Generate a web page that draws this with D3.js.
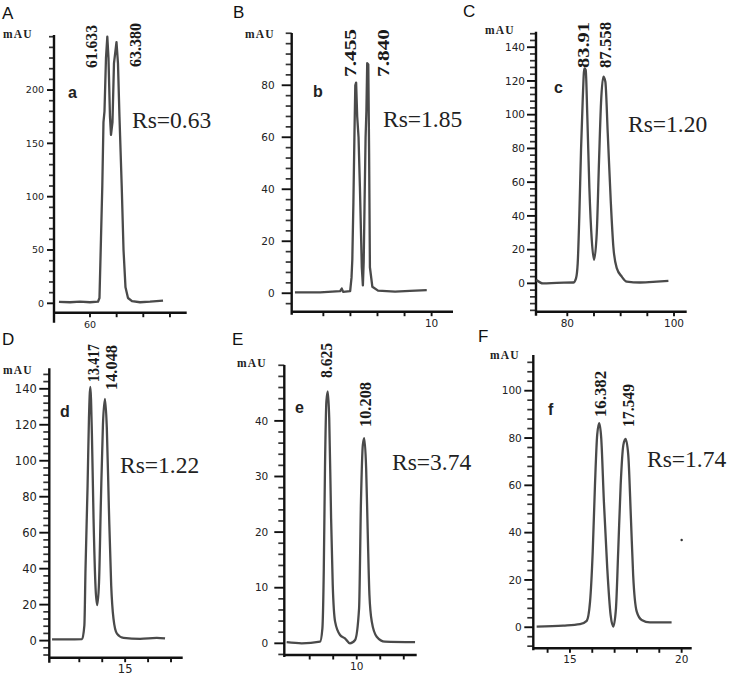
<!DOCTYPE html>
<html><head><meta charset="utf-8">
<script src="https://cdn.jsdelivr.net/npm/d3@7"></script>
<style>body{margin:0;background:#fff} svg{display:block}</style>
</head><body>
<svg id="fig" width="735" height="678"></svg>
<script>
// ---------------- DATA ----------------
const panelLetters = ["A","B","C","D","E","F"];
const sampleLetters = ["a","b","c","d","e","f"];
const resolutions = ["Rs=0.63","Rs=1.85","Rs=1.20","Rs=1.22","Rs=3.74","Rs=1.74"];
const peakLabels = [["61.633","63.380"],["7.455","7.840"],["83.91","87.558"],["13.417","14.048"],["8.625","10.208"],["16.382","17.549"]];
const yUnit = "mAU";

// chromatogram traces [time, mAU]
const traceA = [[54.18,1.4],[56.25,1.0],[58.12,1.5],[60.0,1.0],[61.5,1.5],[61.78,5],[62.06,60],[62.31,110],[62.53,170],[62.72,180],[63.0,230],[63.25,250],[63.47,230],[63.75,175],[63.94,158],[64.22,170],[64.5,225],[64.97,245],[65.25,225],[65.53,175],[65.95,110],[66.29,50],[66.66,15],[67.13,5],[67.88,2],[69.38,1],[71.26,1.5],[73.7,2.5]];
const traceB = [[4.95,0.3],[5.88,0.3],[6.62,0.8],[6.68,1.8],[6.73,0.5],[6.99,0.8],[7.04,6],[7.07,13],[7.11,35],[7.15,62],[7.18,80],[7.21,81],[7.25,68],[7.3,60],[7.35,41],[7.42,10],[7.46,3],[7.49,12],[7.52,33],[7.56,60],[7.59,70],[7.62,88.5],[7.66,88],[7.69,54],[7.72,10],[7.81,2.5],[8.02,1],[8.65,0.6],[9.2,0.9],[9.82,1.2]];
const traceC = [[74.18,2],[75.44,0],[78.01,0.3],[81.13,0.5],[81.63,3],[81.95,12],[82.25,40],[82.57,79],[82.89,109],[83.19,127.5],[83.45,126.5],[83.75,99],[84.13,57],[84.58,26],[85.01,14],[85.52,30],[85.95,73],[86.32,107],[86.75,122.5],[87.13,119.5],[87.58,89],[88.14,49],[88.63,21.7],[89.27,9],[90.21,4],[91.14,1],[93.64,0.5],[96.77,1],[98.95,1.5]];
const traceD = [[11.81,0.7],[12.47,0.7],[13.12,0.8],[13.22,8.5],[13.27,40],[13.36,86],[13.42,123.6],[13.48,141],[13.55,114],[13.62,68],[13.71,29],[13.78,19.7],[13.86,32.6],[13.94,77],[14.03,120],[14.12,134.4],[14.2,118],[14.29,73.5],[14.39,30.8],[14.49,12.2],[14.64,3.9],[14.93,1.5],[15.65,1],[16.38,1.5],[16.74,1.2]];
const traceE = [[7.02,0.2],[7.66,0],[8.44,0.3],[8.54,2.7],[8.6,13.5],[8.65,31.5],[8.71,43.5],[8.77,45.3],[8.83,40.5],[8.91,22.5],[8.98,10.5],[9.08,3.9],[9.29,1.5],[9.5,0.9],[9.71,0],[9.93,0.6],[10.1,6.3],[10.18,25.5],[10.26,35.7],[10.32,36.9],[10.4,31.5],[10.47,19.5],[10.54,8.7],[10.64,3.9],[10.85,1.2],[11.2,0.3],[12.48,0.2]];
const traceF = [[13.51,0.3],[14.7,0.7],[15.45,1.3],[15.75,2.7],[15.9,10.8],[16.02,32],[16.12,60],[16.22,81.3],[16.31,86.3],[16.4,80],[16.52,53],[16.67,25],[16.82,5.2],[16.94,0.3],[17.06,8],[17.16,32],[17.27,60],[17.39,77],[17.49,79.6],[17.61,72.9],[17.73,46],[17.83,22],[17.99,6.6],[18.21,3.1],[18.58,2.1],[19.55,2.1]];
const speckF = [[20.0,36.9]];

// axes: tick values and labels
const xDomains = [[53.25,78.14],[4.83,10.79],[74.13,102.38],[11.69,17.51],[6.92,12.55],[13.36,20.45]];
const yDomains = [[-8.8,251.6],[-7.1,100.1],[-16.8,149.2],[-9.5,151.4],[-2.1,50.05],[-8.9,115.1]];
const xTicks = [[60,65,70,75],[6,7,8,9,10],[80,85,90,95,100],[13,14,15,16,17],[8,9,10,11,12],[14,15,16,17,18,19,20]];
const xTickLabels = [[60],[10],[80,100],[15],[10],[15,20]];
const yMajorTicks = [[0,50,100,150,200],[0,20,40,60,80],[0,20,40,60,80,100,120,140],[0,20,40,60,80,100,120,140],[0,10,20,30,40],[0,20,40,60,80,100]];
const yMinorSteps = [10,4,4,4,2,4];
const traces = [traceA,traceB,traceC,traceD,traceE,traceF];

// ---------------- LAYOUT (pixels) ----------------
const layout = [
 {x0:54, x1:186.7, top:35, base:312.7, ext:10, majLen:7, minLen:5, gap:10, fs:9.5, curve:"linear",
  letter:[2,19], unit:[3,38], sample:[68,98], rs:[132,128],
  peaks:[[97,68,43],[141,67,44]]},
 {x0:291.7, x1:453, top:33, base:311.7, ext:3, majLen:10, minLen:6, gap:17, fs:10.5, curve:"linear",
  letter:[233,18], unit:[245,38], sample:[313,97], rs:[383,127],
  peaks:[[356,77,48],[389,77,48]]},
 {x0:536, x1:686.7, top:31.7, base:311.7, ext:4, majLen:9, minLen:6, gap:11, fs:10.5, curve:"mono",
  letter:[463,17], unit:[485,34], sample:[554,93], rs:[628,132],
  peaks:[[589,68,46],[611,68,46]]},
 {x0:49.3, x1:182.7, top:368.3, base:657.7, ext:5, majLen:10, minLen:6, gap:12.5, fs:11.5, curve:"mono",
  letter:[2,345], unit:[3,374], sample:[60,417], rs:[120,473],
  peaks:[[99,382,38],[117,390,45]]},
 {x0:284.3, x1:416.7, top:365, base:655, ext:2, majLen:10, minLen:6, gap:16, fs:10.5, curve:"mono",
  letter:[232,345], unit:[237,367], sample:[295,413], rs:[392,470],
  peaks:[[332,378,35],[371,427,45]]},
 {x0:533.3, x1:691.7, top:355, base:648.3, ext:2, majLen:9, minLen:6, gap:11.5, fs:10.5, curve:"mono",
  letter:[478,342], unit:[490,359], sample:[548,415], rs:[647,467],
  peaks:[[606,417,46],[634,427,43]]}
];

const svg = d3.select("#fig");
const axisColor = "#111", traceColor = "#4a4a4a", tickFont = "'DejaVu Sans', Verdana, sans-serif";

layout.forEach((L, i) => {
  const g = svg.append("g").attr("class", "panel");
  const x = d3.scaleLinear().domain(xDomains[i]).range([L.x0, L.x1]);
  const y = d3.scaleLinear().domain(yDomains[i]).range([L.base, L.top]);

  // y minor ticks
  const step = yMinorSteps[i];
  const [ymin, ymax] = yDomains[i];
  const minor = d3.range(Math.ceil(ymin/step)*step, ymax + 1e-6, step)
    .filter(v => !yMajorTicks[i].some(m => Math.abs(m - v) < 1e-6));
  g.selectAll("line.ymin").data(minor).join("line").attr("class", "ymin")
    .attr("x1", L.x0 - L.minLen).attr("x2", L.x0)
    .attr("y1", d => y(d)).attr("y2", d => y(d))
    .attr("stroke", "#333").attr("stroke-width", 1.7);
  g.selectAll("line.ymaj").data(yMajorTicks[i]).join("line").attr("class", "ymaj")
    .attr("x1", L.x0 - L.majLen).attr("x2", L.x0)
    .attr("y1", d => y(d)).attr("y2", d => y(d))
    .attr("stroke", axisColor).attr("stroke-width", 1.9);
  g.selectAll("text.ylab").data(yMajorTicks[i]).join("text").attr("class", "ylab")
    .attr("x", L.x0 - L.gap).attr("y", d => y(d)).attr("dy", "0.36em")
    .attr("text-anchor", "end").attr("font-family", tickFont).attr("font-size", L.fs)
    .attr("fill", "#222").text(d => d);

  // x ticks
  g.selectAll("line.xt").data(xTicks[i]).join("line").attr("class", "xt")
    .attr("x1", d => x(d)).attr("x2", d => x(d))
    .attr("y1", L.base).attr("y2", L.base + 4.5)
    .attr("stroke", axisColor).attr("stroke-width", 1.9);
  g.selectAll("text.xlab").data(xTickLabels[i]).join("text").attr("class", "xlab")
    .attr("x", d => x(d)).attr("y", L.base + 15)
    .attr("text-anchor", "middle").attr("font-family", tickFont).attr("font-size", L.fs)
    .attr("fill", "#222").text(d => d);

  // axis lines
  g.append("line").attr("x1", L.x0).attr("x2", L.x0).attr("y1", L.top).attr("y2", L.base + L.ext)
    .attr("stroke", axisColor).attr("stroke-width", 2.4);
  g.append("line").attr("x1", L.x0).attr("x2", L.x1).attr("y1", L.base).attr("y2", L.base)
    .attr("stroke", axisColor).attr("stroke-width", 2.4);

  // trace
  const line = d3.line().x(d => x(d[0])).y(d => y(d[1]))
    .curve(L.curve === "mono" ? d3.curveMonotoneX : d3.curveLinear);
  g.append("path").datum(traces[i]).attr("d", line)
    .attr("fill", "none").attr("stroke", traceColor).attr("stroke-width", 2.3)
    .attr("stroke-linejoin", "round");

  if (i === 5) {
    g.selectAll("circle.speck").data(speckF).join("circle").attr("class", "speck")
      .attr("cx", d => x(d[0])).attr("cy", d => y(d[1])).attr("r", 1.2).attr("fill", "#333");
  }

  // texts
  g.append("text").attr("x", L.letter[0]).attr("y", L.letter[1])
    .attr("font-family", "'Liberation Sans', Arial, sans-serif").attr("font-size", 17)
    .attr("fill", "#111").text(panelLetters[i]);
  g.append("text").attr("x", L.unit[0]).attr("y", L.unit[1])
    .attr("font-family", "'Liberation Serif', 'Times New Roman', serif").attr("font-weight", "bold")
    .attr("font-size", 11.5).attr("letter-spacing", 1.2).attr("fill", "#222").text(yUnit);
  g.append("text").attr("x", L.sample[0]).attr("y", L.sample[1])
    .attr("font-family", "'Liberation Sans', Arial, sans-serif").attr("font-weight", "bold")
    .attr("font-size", 16).attr("fill", "#222").text(sampleLetters[i]);
  g.append("text").attr("x", L.rs[0]).attr("y", L.rs[1])
    .attr("font-family", "'Liberation Serif', 'Times New Roman', serif")
    .attr("font-size", 23.5).attr("fill", "#222").text(resolutions[i]);
  peakLabels[i].forEach((t, k) => {
    const p = L.peaks[k];
    g.append("text").attr("transform", `translate(${p[0]},${p[1]}) rotate(-90)`)
      .attr("font-family", "'Liberation Serif', 'Times New Roman', serif")
      .attr("font-weight", "bold")
      .attr("font-size", 16).attr("fill", "#1a1a1a")
      .attr("textLength", p[2]).attr("lengthAdjust", "spacingAndGlyphs")
      .text(t);
  });
});
</script>
</body></html>
